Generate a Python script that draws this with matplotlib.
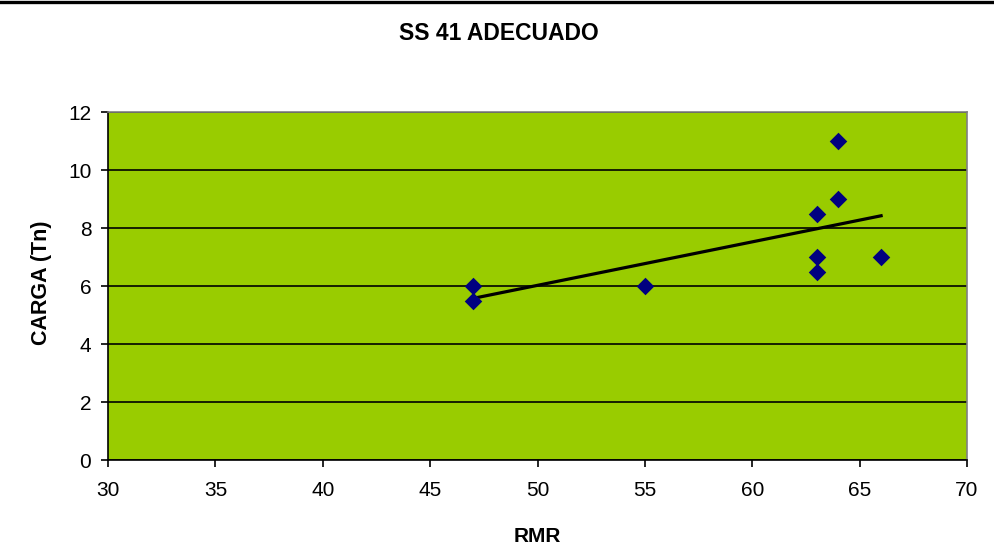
import numpy as np
import matplotlib
matplotlib.use("Agg")
import matplotlib.pyplot as plt

# RMR vs load readings
rmr = [47, 47, 55, 63, 63, 63, 64, 64, 66]
carga = [6.0, 5.5, 6.0, 8.5, 7.0, 6.5, 11.0, 9.0, 7.0]
x_ticks = [30, 35, 40, 45, 50, 55, 60, 65, 70]
y_ticks = [0, 2, 4, 6, 8, 10, 12]

GREEN = "#99CC00"
NAVY = "#000080"

plt.rcParams["font.family"] = ["Liberation Sans", "DejaVu Sans"]

fig = plt.figure(figsize=(9.94, 5.59), dpi=100)
ax = fig.add_axes([108 / 994, 1 - 460 / 559, 859 / 994, 348 / 559])
ax.set_facecolor(GREEN)

# linear trendline (least squares, as Excel does)
k, b = np.polyfit(rmr, carga, 1)
xs = np.array([min(rmr), max(rmr)])
ax.plot(xs, k * xs + b, color="black", lw=2.3, zorder=3)

ax.scatter(rmr, carga, marker="D", s=80, color=NAVY, zorder=4, linewidths=0)

ax.set_xlim(30, 70)
ax.set_ylim(0, 12)
ax.set_xticks(x_ticks)
ax.set_yticks(y_ticks)
ax.yaxis.grid(True, color="black", lw=1.2)
ax.set_axisbelow(True)
ax.tick_params(labelsize=15, direction="out", length=5, width=1.2,
               color="black")
ax.tick_params(axis="y", pad=7)
ax.tick_params(axis="x", pad=10)

for side in ("top", "right"):
    ax.spines[side].set_color("#808080")
    ax.spines[side].set_linewidth(1.2)
for side in ("left", "bottom"):
    ax.spines[side].set_color("black")
    ax.spines[side].set_linewidth(1.2)

fig.text(499 / 994, 1 - 34 / 559, "SS 41 ADECUADO", ha="center", va="center",
         fontsize=16.5, fontweight="bold")
fig.text(537 / 994, 1 - 536 / 559, "RMR", ha="center", va="center",
         fontsize=15, fontweight="bold")
fig.text(42 / 994, 1 - 283 / 559, "CARGA (Tn)", ha="center", va="center",
         fontsize=15.5, fontweight="bold", rotation=90)

# frame edge visible at the top of the image
fig.add_artist(plt.Line2D([0, 1], [1 - 1.5 / 559, 1 - 1.5 / 559],
                          transform=fig.transFigure, color="black", lw=2.4))

fig.savefig("out.png", dpi=100)
